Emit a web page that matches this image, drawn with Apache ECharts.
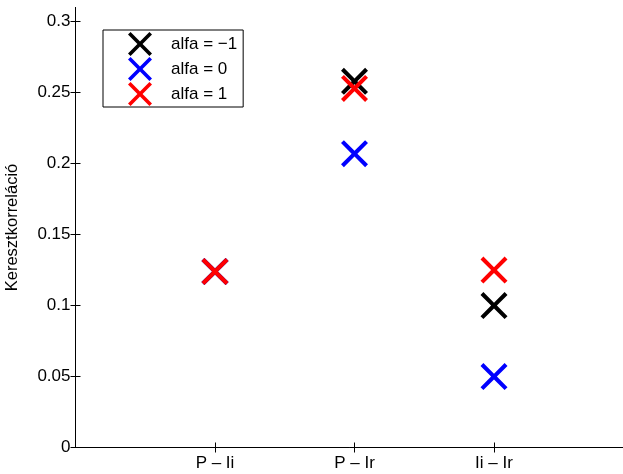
<!DOCTYPE html>
<html>
<head>
<meta charset="utf-8">
<script src="https://cdn.jsdelivr.net/npm/echarts@6/dist/echarts.min.js"></script>
<style>
  html, body { margin: 0; padding: 0; background: #fff; }
  #chart { width: 623px; height: 474px; }
</style>
</head>
<body>
<div id="chart"></div>
<script>
// Pairs of signals compared
const categories = ['P – Ii', 'P – Ir', 'Ii – Ir'];

// Cross-correlation for each alfa setting, one value per pair
const alfaMinus1 = [0.124, 0.258, 0.100];
const alfa0      = [0.124, 0.207, 0.050];
const alfa1      = [0.124, 0.253, 0.125];

const seriesNames = ['alfa = −1', 'alfa = 0', 'alfa = 1'];
const seriesColors = ['#000000', '#0000ff', '#ff0000'];

const yTicks = [0, 0.05, 0.1, 0.15, 0.2, 0.25, 0.3];
const xTicks = [1, 2, 3];

// Thick "x" marker outline
const crossPath = 'path://M0,3 L3,0 L14,11 L25,0 L28,3 L17,14 L28,25 L25,28 L14,17 L3,28 L0,25 L11,14 Z';

const font = "'Liberation Sans', Arial, Helvetica, sans-serif";

function toPoints(values) {
  return values.map((v, i) => [i + 1, v]);
}

const chart = echarts.init(document.getElementById('chart'), null, { renderer: 'canvas' });

const seriesData = [alfaMinus1, alfa0, alfa1];

chart.setOption({
  animation: false,
  backgroundColor: '#ffffff',
  textStyle: { fontFamily: font },
  grid: { left: 75.5, right: -10.5, top: 7.5, bottom: 26.5, containLabel: false, outerBoundsMode: 'none' },
  legend: {
    orient: 'vertical',
    left: 103,
    top: 30,
    padding: [2, 6, 1, 25],
    itemWidth: 24,
    itemHeight: 24,
    itemGap: 1,
    borderColor: '#000',
    borderWidth: 1,
    backgroundColor: '#fff',
    data: seriesNames.map((n, i) => ({ name: n, icon: crossPath, itemStyle: { color: seriesColors[i] } })),
    textStyle: { fontFamily: font, fontSize: 17, color: '#000', padding: [0, 0, 0, 14] }
  },
  xAxis: [
    {
      type: 'value',
      min: 0,
      max: 4,
      interval: 1,
      position: 'bottom',
      splitLine: { show: false },
      axisLine: { show: true, lineStyle: { color: '#000', width: 1 } },
      axisTick: { show: true, inside: true, length: 5, customValues: xTicks, lineStyle: { color: '#000' } },
      axisLabel: {
        customValues: xTicks,
        formatter: v => categories[Math.round(v) - 1] || '',
        fontFamily: font, fontSize: 17, color: '#000', margin: 7
      }
    },
    {
      type: 'value',
      min: 0,
      max: 4,
      interval: 1,
      position: 'top',
      splitLine: { show: false },
      axisLine: { show: true, lineStyle: { color: '#000', width: 1 } },
      axisTick: { show: true, inside: true, length: 5, customValues: xTicks, lineStyle: { color: '#000' } },
      axisLabel: { show: false }
    }
  ],
  yAxis: [
    {
      type: 'value',
      min: 0,
      max: 0.31,
      position: 'left',
      name: 'Keresztkorreláció',
      nameLocation: 'middle',
      nameRotate: 90,
      nameGap: 55,
      nameTextStyle: { fontFamily: font, fontSize: 16.5, color: '#000' },
      splitLine: { show: false },
      axisLine: { show: true, lineStyle: { color: '#000', width: 1 } },
      axisTick: { show: true, inside: true, length: 5, customValues: yTicks, lineStyle: { color: '#000' } },
      axisLabel: {
        customValues: yTicks,
        formatter: v => String(v),
        fontFamily: font, fontSize: 17, color: '#000', margin: 5
      }
    },
    {
      type: 'value',
      min: 0,
      max: 0.31,
      position: 'right',
      splitLine: { show: false },
      axisLine: { show: true, lineStyle: { color: '#000', width: 1 } },
      axisTick: { show: true, inside: true, length: 5, customValues: yTicks, lineStyle: { color: '#000' } },
      axisLabel: { show: false }
    }
  ],
  series: seriesData.map((vals, i) => ({
    name: seriesNames[i],
    type: 'scatter',
    xAxisIndex: 0,
    yAxisIndex: 0,
    symbol: crossPath,
    symbolSize: 27,
    itemStyle: { color: seriesColors[i], opacity: 1 },
    emphasis: { disabled: true },
    data: toPoints(vals)
  }))
});
</script>
</body>
</html>
